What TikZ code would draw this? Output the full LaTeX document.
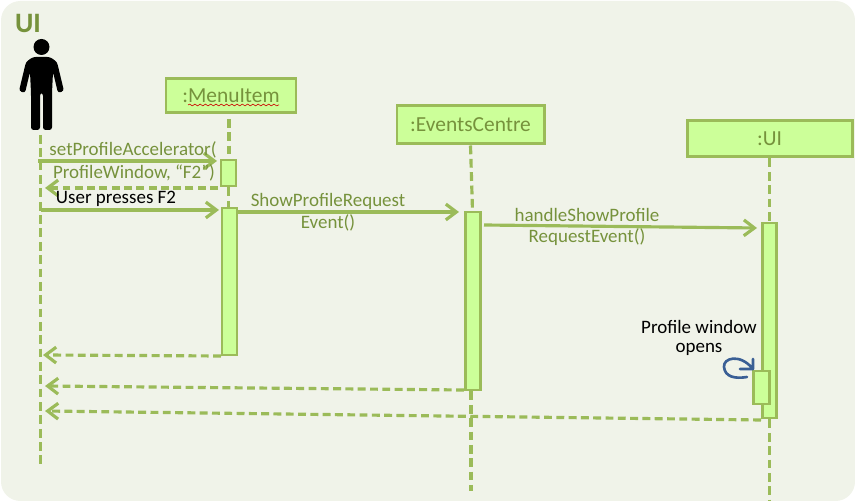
\documentclass[tikz,border=0pt]{standalone}
\usepackage{fontspec}
\setmainfont{Carlito}
\usetikzlibrary{arrows.meta,decorations.pathmorphing}
\definecolor{panelgray}{HTML}{F0F3E9}
\definecolor{linegreen}{HTML}{9BBB59}
\definecolor{boxgreen}{HTML}{CCFF99}
\definecolor{inkgreen}{HTML}{76923C}
\definecolor{curlblue}{HTML}{3A5F95}
\tikzset{
  lifebox/.style={draw=linegreen, fill=boxgreen, line width=1.7pt, text=inkgreen, font=\fontsize{12.2}{14}\selectfont, inner sep=0pt},
  activebar/.style={draw=linegreen, fill=boxgreen, line width=1.7pt, inner sep=0pt, minimum width=#1},
  lifeline/.style={draw=linegreen, line width=1.8pt, dash pattern=on 5pt off 2.6pt},
  callarrow/.style={draw=linegreen, line width=1.8pt, -{Straight Barb[length=6pt,width=9pt]}},
  returnarrow/.style={draw=linegreen, line width=1.8pt, dash pattern=on 4.5pt off 2.5pt, -{Straight Barb[length=6pt,width=9pt]}},
  msglabel/.style={text=inkgreen, font=\fontsize{10.8}{13}\selectfont},
  blacklabel/.style={text=black, font=\fontsize{10.8}{13}\selectfont}
}
\begin{document}
\begin{tikzpicture}[x=0.02cm, y=-0.02cm]
\useasboundingbox (0,0) rectangle (855,502);
\fill[panelgray, rounded corners=11pt] (1,1) rectangle (855,501);
\node[anchor=center, text=inkgreen, font=\fontsize{16}{18}\bfseries\selectfont] (uititle) at (28,23) {UI};
% actor
\fill[black] (41.5,47) circle (8);
\fill[black, rounded corners=1.5pt] (31,130) -- (31,93) -- (30,72) -- (25,93) -- (19,91) -- (26,62) -- (33,57) -- (50,57) -- (57,62) -- (64,91) -- (58,93) -- (53,72) -- (52,93) -- (52,130) -- (43,130) -- (43,93) -- (40,93) -- (40,130) -- cycle;
% lifeline heads
\node[lifebox, minimum width=130*0.02cm, minimum height=34*0.02cm] (menuitem) at (231,96) {:MenuItem};
\node[lifebox, minimum width=147*0.02cm, minimum height=38*0.02cm] (eventscentre) at (470.5,125) {:EventsCentre};
\node[lifebox, minimum width=165*0.02cm, minimum height=36*0.02cm] (uibox) at (769.5,139) {:UI};
\draw[decorate, decoration={snake, amplitude=0.5pt, segment length=3pt}, red!80!black, line width=0.35pt] (188,105) -- (279,105);
% free ends of the lifelines
\coordinate (usertop) at (40.5,135);
\coordinate (userend) at (40.5,466);
\coordinate (menutop) at (229,119);
\coordinate (eventsend) at (471,491);
\coordinate (uiend) at (769.5,500);
\draw[lifeline] (usertop) -- (userend);
% activation bars
\node[activebar=15*0.02cm, minimum height=26*0.02cm] (menubara) at (228.5,173) {};
\node[activebar=15*0.02cm, minimum height=147*0.02cm] (menubarb) at (229.5,281.5) {};
\node[activebar=15*0.02cm, minimum height=178*0.02cm] (eventsbar) at (472.5,301) {};
\node[activebar=14*0.02cm, minimum height=195*0.02cm] (uibar) at (769,320.5) {};
\node[activebar=16*0.02cm, minimum height=33*0.02cm] (uibarb) at (761,387.5) {};
\draw[lifeline] (menutop) -- (menubara.north -| menutop);
\draw[lifeline] (menubara.south) -- (menubarb.north -| menubara.south);
\draw[lifeline] (eventscentre.south) -- (eventsbar.north);
\draw[lifeline] (eventsbar.south -| eventsend) -- (eventsend);
\draw[lifeline] (uibox.south) -- (uibar.north -| uibox.south);
\draw[lifeline] (uibar.south -| uiend) -- (uiend);
% calls
\coordinate (sa) at (38,161); \coordinate (sb) at (217,161);
\coordinate (ra) at (218,188); \coordinate (rb) at (45,188);
\coordinate (pa) at (40.5,210); \coordinate (pb) at (219,210);
\coordinate (ea) at (238,212); \coordinate (eb) at (459,212);
\coordinate (ha) at (484,225); \coordinate (hb) at (757,228);
\draw[callarrow] (sa) -- (sb);
\draw[returnarrow] (ra) -- (rb);
\draw[callarrow] (pa) -- (pb);
\draw[callarrow] (ea) -- (eb);
\draw[callarrow] (ha) -- (hb);
% returns
\coordinate (ma) at (221,356); \coordinate (mb) at (43,355);
\coordinate (na) at (464,390); \coordinate (nb) at (45,386);
\coordinate (oa) at (761,420); \coordinate (ob) at (45,411);
\draw[returnarrow] (ma) -- (mb);
\draw[returnarrow] (na) -- (nb);
\draw[returnarrow] (oa) -- (ob);
% labels
\node[msglabel] (setlabel) at (133,150) {setProfileAccelerator(};
\node[msglabel] (windowlabel) at (134,173) {ProfileWindow, “F2”)};
\node[blacklabel] (presslabel) at (116,199) {User presses F2};
\node[msglabel] (showlabel) at (328,201) {ShowProfileRequest};
\node[msglabel] (eventlabel) at (328,223) {Event()};
\node[msglabel] (handlelabel) at (587,215) {handleShowProfile};
\node[msglabel] (requestlabel) at (587,237) {RequestEvent()};
\node[blacklabel] (openlabel) at (699,327) {Profile window};
\node[blacklabel] (openlabelb) at (699,349) {opens};
% self call
\draw[curlblue, line width=1.5pt, line cap=round, line join=round] (747,377) .. controls (735,379) and (725,377) .. (724,367) .. controls (723,358) and (740,353) .. (753,369) -- (753,359) (753,369) -- (740,369);
\end{tikzpicture}
\end{document}
